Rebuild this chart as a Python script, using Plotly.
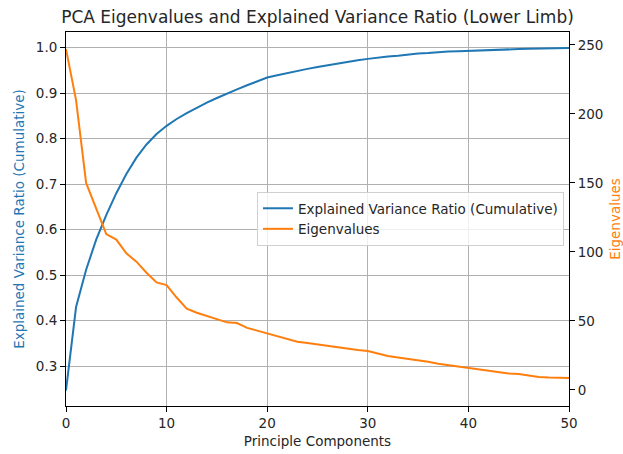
import plotly.graph_objects as go

components = list(range(0, 51))

cumulative_ratio = [
    0.247, 0.43, 0.512, 0.578, 0.632, 0.68, 0.722, 0.758, 0.787, 0.81,
    0.828, 0.843, 0.856, 0.868, 0.879, 0.889, 0.899, 0.908, 0.917, 0.926,
    0.934, 0.939, 0.944, 0.948, 0.953, 0.957, 0.961, 0.965, 0.968, 0.972,
    0.975, 0.978, 0.980, 0.982, 0.985, 0.987, 0.988, 0.990, 0.991, 0.992,
    0.993, 0.994, 0.995, 0.9955, 0.996, 0.9965, 0.997, 0.9975, 0.998, 0.9985,
    0.999,
]

eigenvalues = [
    247, 210, 150, 131, 113, 109, 99, 93, 85, 78,
    76, 67, 59, 56, 53.5, 51.5, 49, 48.5, 45, 43,
    41, 39, 37.5, 35, 34, 33, 32, 31, 29.5, 29,
    28.3, 26.5, 24.6, 23.5, 22.5, 21.7, 20.5, 19, 18, 16.5,
    15.5, 15, 14, 12.5, 12, 11.6, 10.5, 9.5, 9, 8.7,
    8.6,
]

BLUE = "#1f77b4"
ORANGE = "#ff7f0e"
FONT = "DejaVu Sans"

fig = go.Figure()
fig.add_trace(go.Scatter(
    x=components, y=cumulative_ratio, mode="lines",
    name="Explained Variance Ratio (Cumulative)",
    line=dict(color=BLUE, width=2), yaxis="y",
))
fig.add_trace(go.Scatter(
    x=components, y=eigenvalues, mode="lines",
    name="Eigenvalues",
    line=dict(color=ORANGE, width=2), yaxis="y2",
))

axis_common = dict(
    showline=True, linecolor="black", linewidth=1,
    ticks="outside", ticklen=5, tickwidth=1, tickcolor="black",
    zeroline=False, automargin=False,
    tickfont=dict(family=FONT, size=13.5, color="#262626"),
)

fig.update_layout(
    width=623, height=454,
    margin=dict(l=66, r=54, t=32, b=48),
    paper_bgcolor="white", plot_bgcolor="white",
    font=dict(family=FONT, color="#262626"),
    title=dict(
        text="PCA Eigenvalues and Explained Variance Ratio (Lower Limb)",
        x=(66 + 569) / 2 / 623, xanchor="center", y=1 - 17 / 454, yanchor="middle",
        font=dict(family=FONT, size=17, color="#262626"),
    ),
    xaxis=dict(
        range=[0, 50], dtick=10, mirror=True,
        showgrid=True, gridcolor="#b0b0b0", gridwidth=0.8,
        title=dict(text="Principle Components", font=dict(family=FONT, size=13.5, color="#262626"), standoff=6),
        **axis_common,
    ),
    yaxis=dict(
        range=[0.2127, 1.034], dtick=0.1, tickformat=".1f",
        showgrid=True, gridcolor="#b0b0b0", gridwidth=0.8,
        title=dict(text="Explained Variance Ratio (Cumulative)", font=dict(family=FONT, size=13.5, color=BLUE), standoff=8),
        **axis_common,
    ),
    yaxis2=dict(
        range=[-11.6, 259.4], dtick=50, overlaying="y", side="right",
        showgrid=False,
        title=dict(text="Eigenvalues", font=dict(family=FONT, size=13.5, color=ORANGE), standoff=8),
        **axis_common,
    ),
    legend=dict(
        x=0.99, xanchor="right", y=0.5, yanchor="middle",
        bgcolor="rgba(255,255,255,0.8)", bordercolor="#d0d0d0", borderwidth=1,
        font=dict(family=FONT, size=13.5, color="#262626"),
    ),
    showlegend=True,
)

fig.write_html("out.html")
